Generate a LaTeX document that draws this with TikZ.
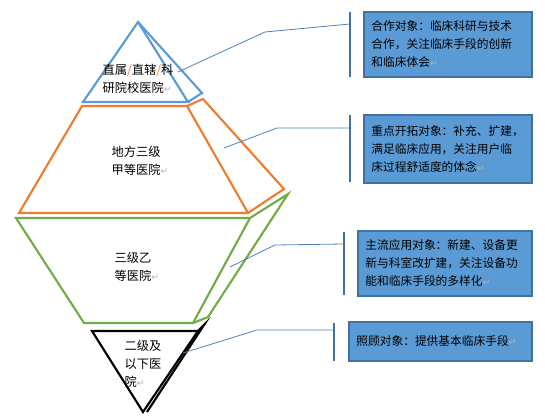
\documentclass[tikz,border=0pt]{standalone}
\usepackage{fontspec}
\setmainfont{Noto Sans CJK SC}
\newfontfamily\symfont{DejaVu Sans}
\usetikzlibrary{positioning}
\definecolor{topblue}{RGB}{91,155,213}
\definecolor{midorange}{RGB}{237,125,49}
\definecolor{lowgreen}{RGB}{112,173,71}
\definecolor{boxfill}{RGB}{91,155,213}
\definecolor{boxedge}{RGB}{65,113,156}
\definecolor{leadcolor}{RGB}{79,129,189}
\newcommand{\parmark}{\textcolor{gray!60}{\symfont\scriptsize ↵}}

\begin{document}
\begin{tikzpicture}[x=0.75pt, y=-0.75pt,
    tier/.style={line width=1.6pt, line join=miter},
    tiertext/.style={align=left, font=\fontsize{9.2}{13.5}\selectfont, inner sep=0pt},
    note/.style={draw=boxedge, line width=0.9pt, fill=boxfill, align=left,
      font=\fontsize{8.8}{13.5}\selectfont, inner xsep=5.5pt, inner ysep=3pt},
    lead/.style={leadcolor, line width=0.6pt},
    bracket/.style={boxedge, line width=0.9pt}]
    \useasboundingbox (0,0) rectangle (545,416);
    % --- Tiers of the pyramid (front face, then side face) ---
    \draw[tier, topblue] (138,22) -- (188,102) -- (83,102) -- cycle;
    \draw[tier, topblue] (138,22) -- (202,93) -- (188,102);
    \draw[tier, midorange] (82,106) -- (187,106) -- (248,213) -- (19,213) -- cycle;
    \draw[tier, midorange] (187,106) -- (203,99) -- (284,189) -- (248,213);
    \draw[tier, lowgreen] (16,218) -- (250,218) -- (193,323) -- (84,323) -- cycle;
    \draw[tier, lowgreen] (250,218) -- (288,194) -- (208,317) -- (193,323);
    \draw[tier, black] (92,331) -- (198,331) -- (143,412) -- cycle;
    \draw[tier, black] (198,331) -- (204,325) -- (147,412);
    % --- Tier labels ---
    \node[tiertext] (toptier) at (138,78.5)
      {直属{\color{midorange}/}直辖{\color{midorange}/}科\\研院校医院\parmark};
    \node[tiertext] (midtier) at (140,161) {地方三级\\甲等医院\parmark};
    \node[tiertext] (lowtier) at (137,266.5) {三级乙\\等医院\parmark};
    \node[tiertext] (basetier) at (143,364) {二级及\\以下医\\院\parmark};
    % --- Notes ---
    \node[note, text width=115pt, minimum height=48.75pt] (coopnote) at (448,44.5)
      {合作对象：临床科研与技术\\合作，关注临床手段的创新\\和临床体会\parmark};
    \node[note, text width=115pt, minimum height=51pt] (focusnote) at (448,149)
      {重点开拓对象：补充、扩建，\\满足临床应用，关注用户临\\床过程舒适度的体念\parmark};
    \node[note, text width=119.5pt, minimum height=48.75pt] (mainnote) at (445,263.5)
      {主流应用对象：新建、设备更\\新与科室改扩建，关注设备功\\能和临床手段的多样化\parmark};
    \node[note, text width=126.25pt, minimum height=29.25pt] (carenote) at (440.5,341.5)
      {照顾对象：提供基本临床手段\parmark};
    % --- Brackets beside the notes ---
    \draw[bracket] (350,12) -- (350,77);
    \draw[bracket] (350,115) -- (350,182);
    \draw[bracket] (344,232) -- (344,295);
    \draw[bracket] (334,323) -- (334,361);
    % --- Leader lines ---
    \coordinate (coopfoot) at (178,72);  \coordinate (coopknee) at (265,32);  \coordinate (coopbar) at (350,24);
    \coordinate (focusfoot) at (224,148); \coordinate (focusknee) at (277,128); \coordinate (focusbar) at (350,128);
    \coordinate (mainfoot) at (230,267); \coordinate (mainknee) at (275,245); \coordinate (mainbar) at (344,244);
    \coordinate (carefoot) at (183,353); \coordinate (careknee) at (257,330); \coordinate (carebar) at (334,330);
    \draw[lead] (coopfoot) -- (coopknee) -- (coopbar);
    \draw[lead] (focusfoot) -- (focusknee) -- (focusbar);
    \draw[lead] (mainfoot) -- (mainknee) -- (mainbar);
    \draw[lead] (carefoot) -- (careknee) -- (carebar);
\end{tikzpicture}
\end{document}
